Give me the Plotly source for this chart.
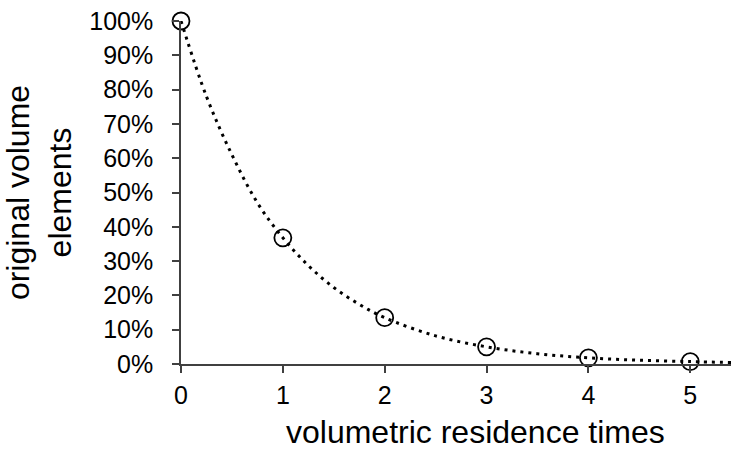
import plotly.graph_objects as go

# measured points (volumetric residence times vs fraction of original volume elements)
point_x = [0, 1, 2, 3, 4, 5]
point_y = [1.00, 0.368, 0.135, 0.050, 0.018, 0.007]

# dotted curve, values
curve_x = [0, 0.25, 0.5, 0.75, 1, 1.25, 1.5, 1.75, 2, 2.5, 3, 3.5, 4, 4.5, 5, 5.4]
curve_y = [1.0, 0.78, 0.61, 0.47, 0.368, 0.287, 0.223, 0.174, 0.135, 0.082, 0.05, 0.03, 0.018, 0.011, 0.007, 0.0045]

y_ticks = [0, 0.1, 0.2, 0.3, 0.4, 0.5, 0.6, 0.7, 0.8, 0.9, 1.0]
y_tick_text = ["0%", "10%", "20%", "30%", "40%", "50%", "60%", "70%", "80%", "90%", "100%"]
x_ticks = [0, 1, 2, 3, 4, 5]
x_title = "volumetric residence times"
y_title = "original volume<br>elements"

fig = go.Figure()
fig.add_trace(go.Scatter(
    x=curve_x, y=curve_y, mode="lines",
    line=dict(color="black", width=3, dash="3px,5px", shape="spline"),
    hoverinfo="skip", cliponaxis=False,
))
fig.add_trace(go.Scatter(
    x=point_x, y=point_y, mode="markers",
    marker=dict(symbol="circle-open", size=17, color="black", line=dict(width=1.8, color="black")),
    cliponaxis=False,
))

font = dict(family="Liberation Sans, Arial, sans-serif", color="black")
fig.add_annotation(
    text=x_title, xref="paper", yref="paper", x=0.536, y=-0.199,
    xanchor="center", yanchor="middle", showarrow=False, borderpad=0,
    font=dict(size=32, **font),
)
fig.update_layout(
    width=731, height=450,
    margin=dict(l=181, r=0, t=21, b=86),
    paper_bgcolor="white", plot_bgcolor="white",
    showlegend=False,
    font=font,
    xaxis=dict(
        range=[0, 5.4], tickvals=x_ticks, ticks="outside", ticklen=7, tickwidth=1.5,
        tickcolor="#404040", showline=True, linecolor="#404040", linewidth=1.5,
        showgrid=False, zeroline=False, tickfont=dict(size=25, **font),
        ticklabelstandoff=1, automargin=False,
    ),
    yaxis=dict(
        range=[0, 1.0], tickvals=y_ticks, ticktext=y_tick_text, ticks="outside", ticklen=7,
        tickwidth=1.5, tickcolor="#404040", showline=True, linecolor="#404040", linewidth=1.5,
        showgrid=False, zeroline=False, tickfont=dict(size=25, **font),
        ticklabelstandoff=14, automargin=False,
        title=dict(text=y_title, font=dict(size=32, **font), standoff=10),
    ),
)

fig.write_html("out.html")
